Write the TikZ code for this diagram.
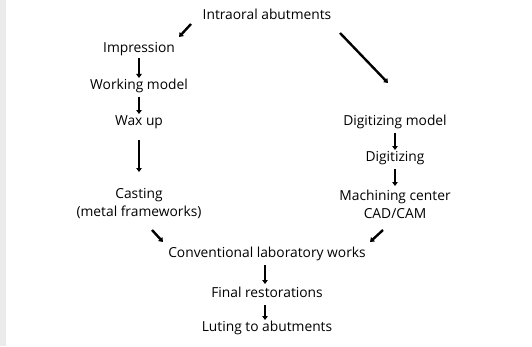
\documentclass[tikz,border=0pt]{standalone}
\usepackage{fontspec}
\setmainfont{Open Sans}
\usetikzlibrary{positioning,arrows.meta}

\begin{document}
\begin{tikzpicture}[x=1pt,y=1pt,
    lbl/.style={font=\fontsize{13.8}{18}\selectfont, align=center, inner sep=1pt},
    arr/.style={line width=2.4pt, -{Triangle[length=4pt,width=5.5pt]}}]
  \useasboundingbox (0,0) rectangle (532,346);
  \fill[white] (0,0) rectangle (532,346);
  \fill[black!8] (0,0) rectangle (6,346);
  % top
  \node[lbl] (intra) at (267,332) {Intraoral abutments};
  % conventional branch
  \node[lbl] (impr)  at (139,297) {Impression};
  \node[lbl] (work)  at (139,260) {Working model};
  \node[lbl] (wax)   at (139,224) {Wax up};
  \node[lbl] (cast)  at (139,142) {Casting\\(metal frameworks)};
  % digital branch
  \node[lbl] (digm)  at (395,224) {Digitizing model};
  \node[lbl] (digi)  at (395,188) {Digitizing};
  \node[lbl] (mach)  at (395,142) {Machining center\\CAD/CAM};
  % bottom
  \node[lbl] (conv)  at (267,92) {Conventional laboratory works};
  \node[lbl] (final) at (267,54) {Final restorations};
  \node[lbl] (lut)   at (267,18) {Luting to abutments};

  \draw[arr] ([shift={(-76pt,-10pt)}]intra.center) -- ([shift={(40pt,12pt)}]impr.center);
  \draw[arr] ([shift={(73pt,-19pt)}]intra.center) -- ([shift={(-7pt,39pt)}]digm.center);
  \draw[arr, shorten <=9pt, shorten >=8pt] (impr.center) -- (work.center);
  \draw[arr, shorten <=11pt, shorten >=8pt] (work.center) -- (wax.center);
  \draw[arr, shorten <=18pt, shorten >=32pt] (wax.center) -- (cast.center);
  \draw[arr, shorten <=11pt, shorten >=8pt] (digm.center) -- (digi.center);
  \draw[arr, shorten <=11pt, shorten >=18pt] (digi.center) -- (mach.center);
  \draw[arr] ([shift={(13pt,-26pt)}]cast.center) -- ([shift={(-104pt,12pt)}]conv.center);
  \draw[arr] ([shift={(-12pt,-26pt)}]mach.center) -- ([shift={(103pt,12pt)}]conv.center);
  \draw[arr, shorten <=11pt, shorten >=8pt] ([xshift=-2pt]conv.center) -- ([xshift=-2pt]final.center);
  \draw[arr, shorten <=13pt, shorten >=8pt] ([xshift=-2pt]final.center) -- ([xshift=-2pt]lut.center);
\end{tikzpicture}
\end{document}
